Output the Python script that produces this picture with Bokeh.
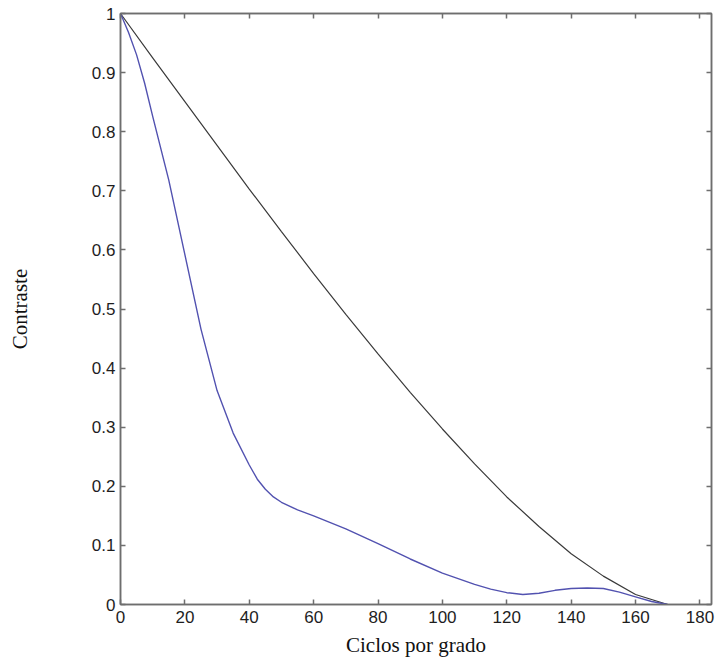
from bokeh.plotting import figure
from bokeh.models import LinearAxis, FixedTicker, Range1d
from bokeh.embed import file_html
from bokeh.resources import INLINE

# --- data ---
freq_diff = [0, 10, 20, 30, 40, 50, 60, 70, 80, 90, 100, 110, 120, 130, 140, 150, 160, 170]
mtf_diff = [1.0, 0.925, 0.851, 0.777, 0.703, 0.631, 0.560, 0.491, 0.424, 0.359,
            0.297, 0.238, 0.182, 0.132, 0.086, 0.048, 0.017, 0.0]

freq_eye = [0, 2.5, 5, 7.5, 10, 15, 20, 25, 30, 35, 40, 42.5, 45, 47.5, 50, 55, 60, 70,
            80, 90, 100, 110, 115, 120, 125, 130, 135, 140, 145, 150, 155, 160, 165, 170]
mtf_eye = [1.0, 0.968, 0.93, 0.882, 0.826, 0.718, 0.592, 0.466, 0.362, 0.290, 0.236,
           0.212, 0.195, 0.182, 0.173, 0.160, 0.150, 0.128, 0.103, 0.077, 0.053, 0.034,
           0.026, 0.020, 0.017, 0.019, 0.024, 0.027, 0.028, 0.027, 0.021, 0.013, 0.005, 0.0]

x_ticks = [0, 20, 40, 60, 80, 100, 120, 140, 160, 180]
y_ticks = [0, 0.1, 0.2, 0.3, 0.4, 0.5, 0.6, 0.7, 0.8, 0.9, 1]
y_tick_labels = ["0", "0.1", "0.2", "0.3", "0.4", "0.5", "0.6", "0.7", "0.8", "0.9", "1"]

x_label = "Ciclos por grado"
y_label = "Contraste"

AXIS_COLOR = "#6e6e6e"
TICK_FONT = "Liberation Sans"
LABEL_FONT = "Liberation Serif"

p = figure(width=717, height=662, output_backend="svg", toolbar_location=None,
           x_range=Range1d(0, 183.6), y_range=Range1d(0, 1),
           min_border_left=120, min_border_right=6, min_border_top=13, min_border_bottom=58,
           x_axis_location=None, y_axis_location=None)
p.grid.visible = False
p.outline_line_color = AXIS_COLOR
p.outline_line_width = 1.5
p.background_fill_color = "white"
p.border_fill_color = "white"

def style_axis(ax, show_labels):
    ax.axis_line_color = AXIS_COLOR
    ax.axis_line_width = 1.5
    ax.major_tick_line_color = AXIS_COLOR
    ax.major_tick_line_width = 1.5
    ax.major_tick_in = 5
    ax.major_tick_out = 0
    ax.minor_tick_line_color = None
    ax.major_label_text_font = TICK_FONT
    ax.major_label_text_font_size = "17px"
    ax.major_label_text_color = "#1e1e1e"
    ax.axis_label_text_font = LABEL_FONT
    ax.axis_label_text_font_size = "21px"
    ax.axis_label_text_font_style = "normal"
    ax.axis_label_text_color = "#111111"
    if not show_labels:
        ax.major_label_text_font_size = "1px"
        ax.major_label_text_color = None
        ax.major_label_standoff = 0

xb = LinearAxis(ticker=FixedTicker(ticks=x_ticks), axis_label=x_label)
style_axis(xb, True)
xb.major_label_standoff = 6
xb.axis_label_standoff = 7
p.add_layout(xb, "below")

yl = LinearAxis(ticker=FixedTicker(ticks=y_ticks), axis_label=y_label)
style_axis(yl, True)
yl.major_label_standoff = 5
yl.axis_label_standoff = 57
yl.major_label_overrides = {t: s for t, s in zip(y_ticks, y_tick_labels)}
p.add_layout(yl, "left")

xt = LinearAxis(ticker=FixedTicker(ticks=x_ticks))
style_axis(xt, False)
xt.major_label_overrides = {t: "" for t in x_ticks}
p.add_layout(xt, "above")

yr = LinearAxis(ticker=FixedTicker(ticks=y_ticks))
style_axis(yr, False)
yr.major_label_overrides = {t: "" for t in y_ticks}
p.add_layout(yr, "right")

p.line(freq_diff, mtf_diff, line_color="#3a3a3a", line_width=1.2)
p.line(freq_eye, mtf_eye, line_color="#5252b0", line_width=1.4)

open("out.html", "w").write(file_html(p, INLINE))
